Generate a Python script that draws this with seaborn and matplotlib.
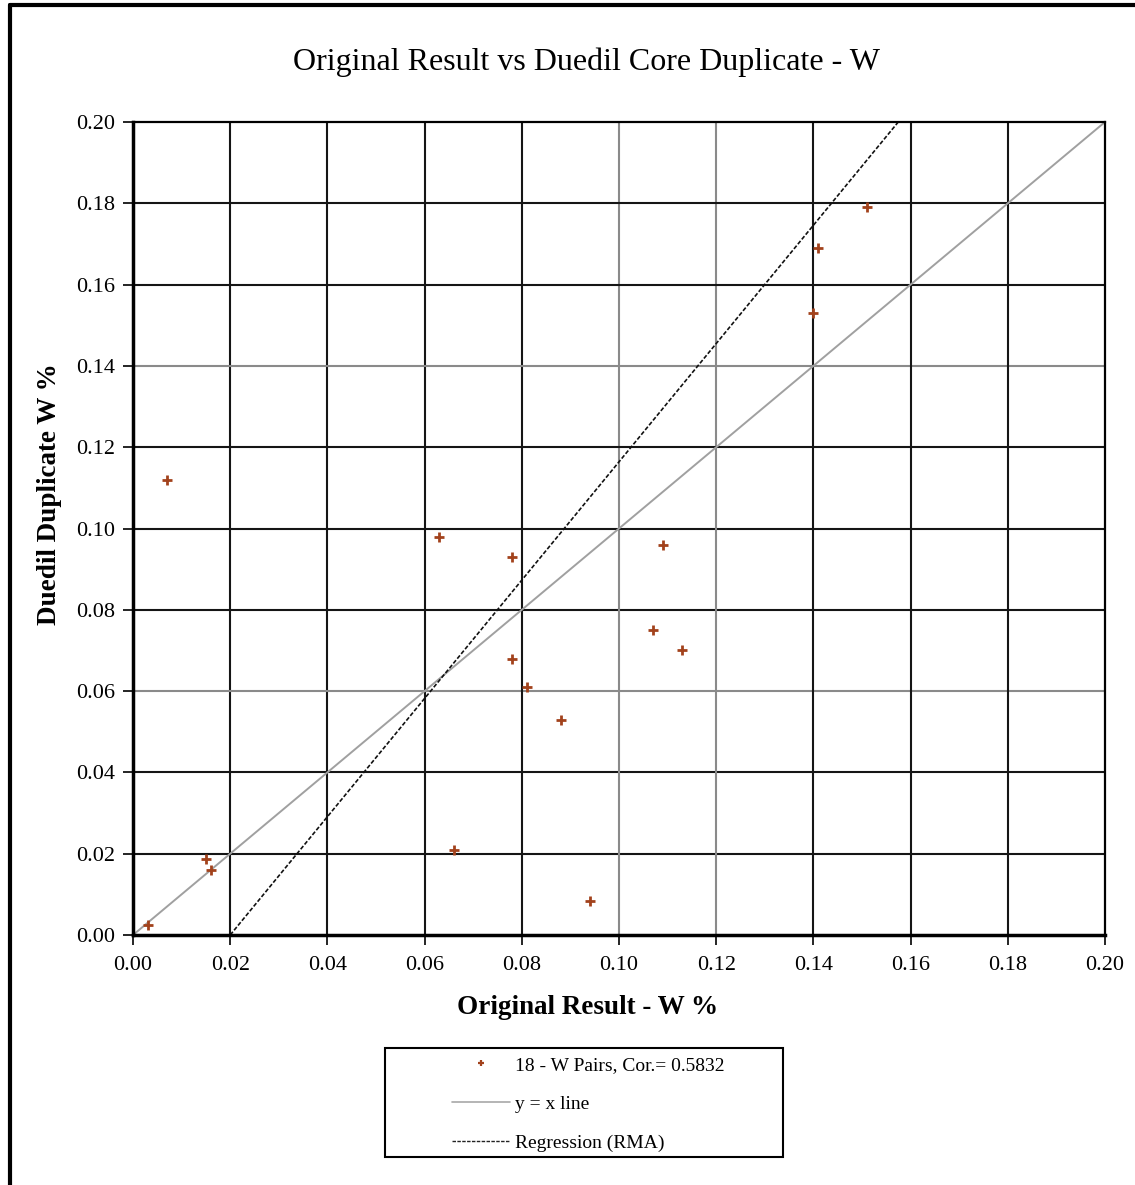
import matplotlib
matplotlib.use("Agg")
import matplotlib.pyplot as plt
from matplotlib.lines import Line2D
from matplotlib.patches import Rectangle
import numpy as np
import pandas as pd
import seaborn as sns

sns.set_style("white")
plt.rcParams['font.family'] = ['Liberation Serif', 'DejaVu Serif']
plt.rcParams['text.color'] = 'black'
plt.rcParams['axes.labelcolor'] = 'black'

# values
original = [0.003, 0.007, 0.015, 0.016, 0.063, 0.066, 0.078, 0.078, 0.081,
            0.088, 0.094, 0.107, 0.109, 0.113, 0.140, 0.141, 0.151]
duplicate = [0.0025, 0.112, 0.0186, 0.016, 0.098, 0.021, 0.093, 0.068, 0.061,
             0.053, 0.0084, 0.075, 0.096, 0.070, 0.153, 0.169, 0.179]
rma_slope = 1.455
rma_intercept = -0.0291
ticks = [0.00, 0.02, 0.04, 0.06, 0.08, 0.10, 0.12, 0.14, 0.16, 0.18, 0.20]
light_x = [0.10, 0.12]
light_y = [0.06, 0.14]

df = pd.DataFrame({'orig': original, 'dup': duplicate})
diag = pd.DataFrame({'x': [0.0, 0.2], 'y': [0.0, 0.2]})

fig = plt.figure(figsize=(11.35, 11.85), dpi=100)
ax = fig.add_axes([133/1135, 1-935/1185, (1105-133)/1135, (935-122)/1185])

ax.set_xlim(0, 0.2)
ax.set_ylim(0, 0.2)
ax.set_xticks(ticks)
ax.set_yticks(ticks)
ax.set_xticklabels(["{:.2f}".format(t) for t in ticks])
ax.set_yticklabels(["{:.2f}".format(t) for t in ticks])

for t in ticks[1:-1]:
    ax.axvline(t, color='#8a8a8a' if t in light_x else '#151515', lw=1.5, zorder=1)
    ax.axhline(t, color='#8a8a8a' if t in light_y else '#151515', lw=1.5, zorder=1)

sns.lineplot(data=diag, x='x', y='y', ax=ax, color='#a0a0a0', lw=1.4, zorder=2)
ax.axline((0, rma_intercept), slope=rma_slope, color='#111111', lw=1.2,
          ls=(0, (2.5, 1.2)), zorder=2)
sns.scatterplot(data=df, x='orig', y='dup', ax=ax, marker='+', s=50,
                color='#a2421c', linewidth=2.0, zorder=3)

for side in ['left', 'bottom']:
    ax.spines[side].set_linewidth(2.5)
for side in ['top', 'right']:
    ax.spines[side].set_linewidth(1.6)
for sp in ax.spines.values():
    sp.set_color('black')

ax.tick_params(axis='both', direction='out', length=7, width=1.2,
               labelsize=16, colors='black', pad=6)
ax.tick_params(axis='x', pad=8)
ax.tick_params(left=True, bottom=True)

ax.set_xlabel("Original Result - W %", fontsize=19.5, fontweight='bold')
ax.set_ylabel("Duedil Duplicate W %", fontsize=19.5, fontweight='bold')
ax.xaxis.set_label_coords(0.468, -0.074)
ax.yaxis.set_label_coords(-0.073, 0.542)
fig.text(0.517, 1-62/1185, "Original Result vs Duedil Core Duplicate - W",
         ha='center', va='center', fontsize=23)

# legend with its own box
fig.patches.append(Rectangle((385/1135, 1-1157/1185), (783-385)/1135, (1157-1048)/1185,
                             transform=fig.transFigure, fill=False, ec='black', lw=1.5))
handles = [
    Line2D([], [], ls='none', marker='+', color='#a2421c', ms=5, mew=1.6),
    Line2D([], [], color='#a8a8a8', lw=1.2),
    Line2D([], [], color='#222222', lw=1.0, ls=(0, (2.5, 1.0))),
]
labels = ["18 - W Pairs, Cor.= 0.5832", "y = x line", "Regression (RMA)"]
fig.legend(handles, labels, loc='upper left', bbox_to_anchor=(452/1135, 1-1056/1185),
           frameon=False, fontsize=14, handlelength=3.0, handletextpad=0.25,
           labelspacing=1.1, borderaxespad=0, borderpad=0)

# outer frame (left and top edges visible)
fig.lines.append(Line2D([10/1135, 10/1135], [0, 1-5/1185], transform=fig.transFigure,
                        color='black', lw=3))
fig.lines.append(Line2D([10/1135, 1], [1-5/1185, 1-5/1185], transform=fig.transFigure,
                        color='black', lw=3))

plt.savefig("out.png", dpi=100)
